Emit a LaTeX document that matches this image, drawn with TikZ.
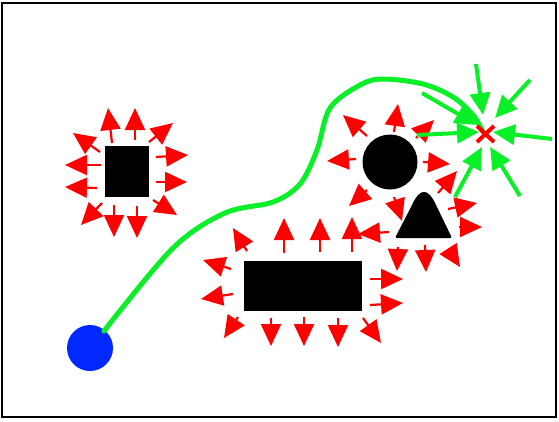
\documentclass[tikz,border=0pt]{standalone}
\usetikzlibrary{arrows.meta}
\definecolor{pgreen}{RGB}{10,240,40}
\definecolor{pblue}{RGB}{0,40,255}
\tikzset{
  rep/.style={red, line width=2.2pt, -{Triangle[length=22pt 0 0,width=20pt 0 0]}},
  att/.style={pgreen, line width=4pt, -{Triangle[length=22pt 0 0,width=20pt 0 0]}},
}
\begin{document}
\begin{tikzpicture}[x=1pt,y=-1pt]
\useasboundingbox (0,0) rectangle (559,421);
\draw[line width=1.5pt] (2,3) rectangle (556,417);
% obstacles
\fill (105,146) rectangle (149,197);
\fill (244,261) rectangle (362,311);
\fill (390,162) circle (27.5);
\fill[rounded corners=1.5pt] (395,238) -- (412,205) .. controls (420,188) and (428,188) .. (436,205) -- (452,238) -- cycle;
\fill[pblue] (90,348) circle (23);
% path
\draw[pgreen, line width=5pt, line cap=round] plot[smooth, tension=0.55] coordinates {(104,331) (173,248) (225,213) (273,202) (300,184) (317,150) (330,108) (360,85) (383,79) (423,84) (453,97) (473,115) (483,132)};
% square arrows
\draw[rep] (112,143) -- (108,108);
\draw[rep] (135,140) -- (135,108);
\draw[rep] (149,142) -- (173,123);
\draw[rep] (100,152) -- (73,133);
\draw[rep] (101,165) -- (65,165);
\draw[rep] (97,188) -- (65,187);
\draw[rep] (156,157) -- (188,155);
\draw[rep] (156,182) -- (187,182);
\draw[rep] (153,200) -- (177,215);
\draw[rep] (102,203) -- (81,225);
\draw[rep] (114,205) -- (114,237);
\draw[rep] (137,206) -- (137,238);
% rectangle arrows
\draw[rep] (284,253) -- (284,218);
\draw[rep] (320,252) -- (320,218);
\draw[rep] (352,252) -- (352,217);
\draw[rep] (247,251) -- (233,228);
\draw[rep] (231,269) -- (203,260);
\draw[rep] (233,294) -- (201,299);
\draw[rep] (370,279) -- (403,279);
\draw[rep] (370,305) -- (403,303);
\draw[rep] (238,317) -- (224,338);
\draw[rep] (271,318) -- (271,346);
\draw[rep] (304,317) -- (304,346);
\draw[rep] (338,318) -- (338,347);
\draw[rep] (363,318) -- (381,343);
% circle arrows
\draw[rep] (394,132) -- (398,104);
\draw[rep] (367,136) -- (343,115);
\draw[rep] (416,138) -- (434,120);
\draw[rep] (356,159) -- (327,161);
\draw[rep] (423,162) -- (450,164);
\draw[rep] (367,190) -- (349,206);
\draw[rep] (394,197) -- (402,221);
% triangle arrows
\draw[rep] (438,193) -- (457,171);
\draw[rep] (448,209) -- (477,203);
\draw[rep] (459,227) -- (482,227);
\draw[rep] (389,232) -- (358,234);
\draw[rep] (398,247) -- (397,271);
\draw[rep] (425,245) -- (426,272);
\draw[rep] (449,250) -- (460,267);
% goal arrows
\draw[att] (476,64) -- (483,115);
\draw[att] (530,80) -- (495,118);
\draw[att] (422,93) -- (477,125);
\draw[att] (417,135) -- (479,132);
\draw[att] (552,139) -- (493,132);
\draw[att] (455,197) -- (482,147);
\draw[att] (520,196) -- (490,147);
% goal cross
\draw[red, line width=4pt] (477,126) -- (494,142) (494,126) -- (477,142);
\end{tikzpicture}
\end{document}
